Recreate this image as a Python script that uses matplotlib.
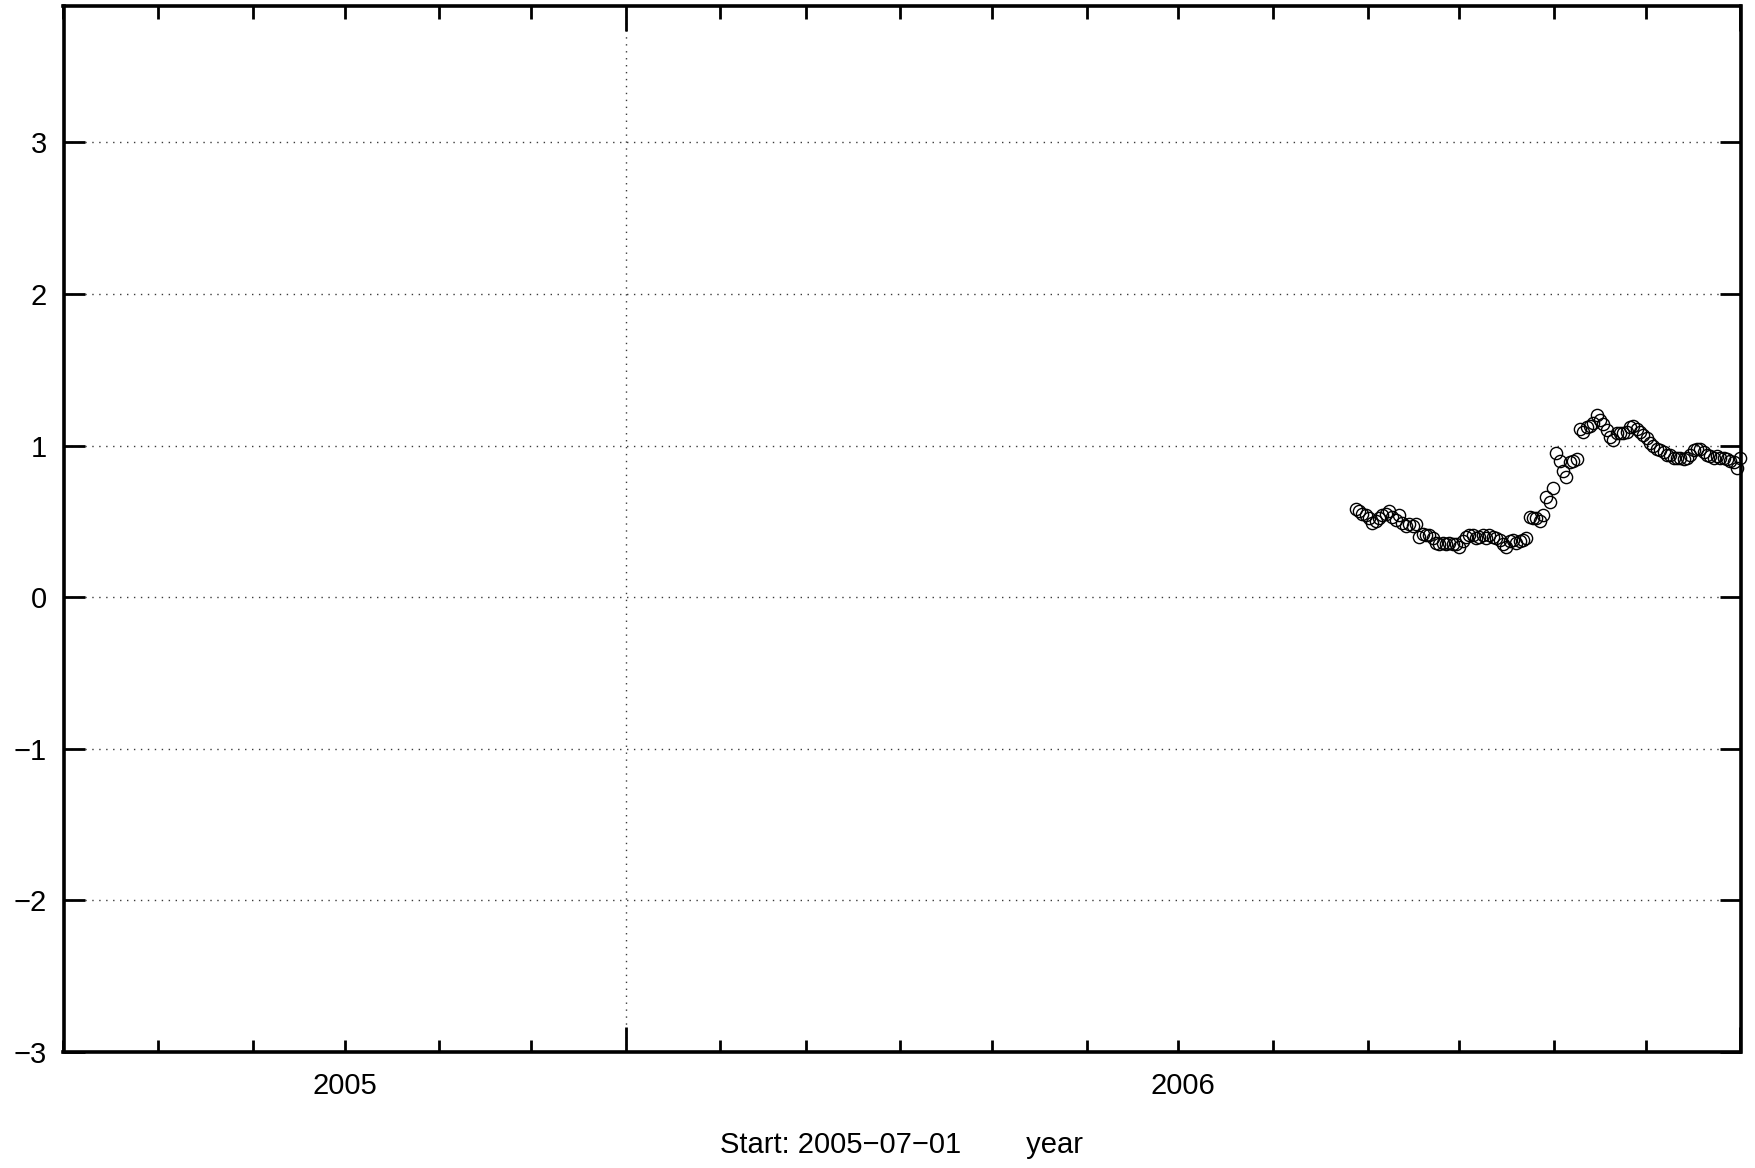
import matplotlib
matplotlib.use("Agg")
import matplotlib.pyplot as plt
import matplotlib.dates as mdates
import numpy as np
from datetime import datetime

plt.rcParams['font.family'] = ['Liberation Sans', 'DejaVu Sans']

# ---- data ----
axis_start = "2005-07-01"
axis_end = "2007-01-01"
series_start = "2006-08-28"
series_end = "2007-01-01"
values = [0.58, 0.57, 0.55, 0.54, 0.52, 0.49, 0.50, 0.52, 0.54, 0.55,
          0.57, 0.53, 0.51, 0.54, 0.49, 0.47, 0.48, 0.47, 0.48, 0.40,
          0.42, 0.41, 0.41, 0.39, 0.36, 0.35, 0.36, 0.35, 0.36, 0.35,
          0.35, 0.33, 0.37, 0.40, 0.41, 0.41, 0.39, 0.40, 0.41, 0.39,
          0.41, 0.40, 0.39, 0.38, 0.35, 0.33, 0.37, 0.38, 0.36, 0.37,
          0.38, 0.39, 0.53, 0.52, 0.52, 0.50, 0.54, 0.66, 0.63, 0.72,
          0.95, 0.90, 0.83, 0.79, 0.89, 0.90, 0.91, 1.11, 1.09, 1.12,
          1.13, 1.15, 1.20, 1.17, 1.14, 1.10, 1.06, 1.04, 1.08, 1.08,
          1.08, 1.09, 1.12, 1.13, 1.11, 1.09, 1.07, 1.05, 1.02, 1.00,
          0.98, 0.97, 0.96, 0.94, 0.94, 0.92, 0.92, 0.92, 0.91, 0.92,
          0.94, 0.97, 0.98, 0.98, 0.96, 0.94, 0.93, 0.92, 0.93, 0.92,
          0.92, 0.91, 0.90, 0.89, 0.85, 0.92]
y_ticks = [-3, -2, -1, 0, 1, 2, 3]
year_labels = ["2005", "2006"]
xlabel_text = "Start: 2005\u221207\u221201        year"

# ---- figure ----
W, H = 1755, 1168
fig = plt.figure(figsize=(W / 100, H / 100), dpi=100)
ax = fig.add_axes([63.5 / W, 1 - 1052 / H, (1740.5 - 63.5) / W, (1052 - 6) / H])

d0 = mdates.date2num(datetime.fromisoformat(axis_start))
d1 = mdates.date2num(datetime.fromisoformat(axis_end))
s0 = mdates.date2num(datetime.fromisoformat(series_start))
s1 = mdates.date2num(datetime.fromisoformat(series_end))
xs = np.linspace(s0, s1, len(values))

ax.plot(xs, values, linestyle='none', marker='o', markersize=8.8,
        markerfacecolor='none', markeredgecolor='black', markeredgewidth=1.0,
        clip_on=False, zorder=5)

ax.set_xlim(d0, d1)
ax.set_ylim(-3, 3.9)

FS = 21
grid_style = dict(color='#3a3a3a', linewidth=1.0, linestyle=(0, (1.0, 4.0)), zorder=1)

# y ticks and grid
ax.set_yticks(y_ticks)
ax.set_yticklabels([f"{v}".replace("-", "\u2212") for v in y_ticks], fontsize=FS)
ax.tick_params(axis='y', which='major', direction='in', length=15, width=2,
               left=True, right=True, pad=12)
for v in y_ticks[1:]:
    ax.axhline(v, **grid_style)

# x ticks: months minor, year major
ax.xaxis.set_major_locator(mdates.YearLocator())
ax.xaxis.set_minor_locator(mdates.MonthLocator())
ax.xaxis.set_major_formatter(plt.NullFormatter())
ax.tick_params(axis='x', which='major', direction='in', length=18, width=2,
               top=True, bottom=True)
ax.tick_params(axis='x', which='minor', direction='in', length=9, width=2,
               top=True, bottom=True)
year_line = mdates.date2num(datetime(2006, 1, 1))
ax.axvline(year_line, **grid_style)

# year labels centered in each year segment
ax.text((d0 + year_line) / 2, -0.019, year_labels[0], transform=ax.get_xaxis_transform(),
        ha='center', va='top', fontsize=FS)
ax.text((year_line + d1) / 2, -0.019, year_labels[1], transform=ax.get_xaxis_transform(),
        ha='center', va='top', fontsize=FS)

fig.text((63.5 + 1740.5) / 2 / W, 1 - 1145 / H, xlabel_text, ha='center', va='center',
         fontsize=FS)

for sp in ax.spines.values():
    sp.set_linewidth(2.6)

fig.savefig("out.png", dpi=100, facecolor='white')
